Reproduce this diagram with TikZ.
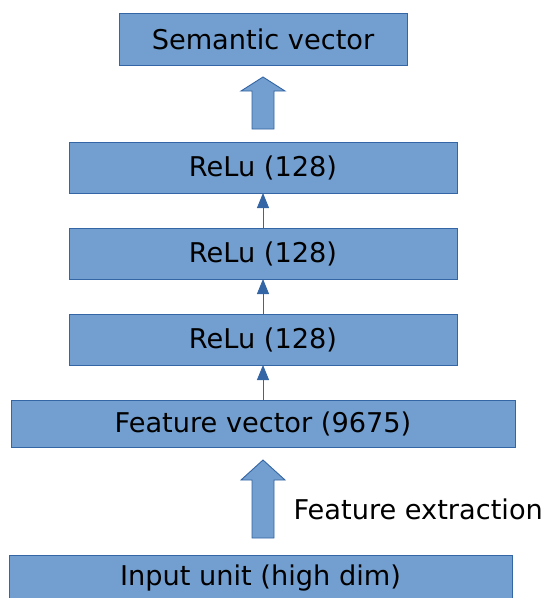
\documentclass[tikz,border=0pt]{standalone}
\usepackage{fontspec}
\setmainfont{DejaVu Sans}
\usetikzlibrary{arrows.meta}
\definecolor{boxfill}{HTML}{729FCF}
\definecolor{boxline}{HTML}{3465A4}
\begin{document}
\begin{tikzpicture}[x=1pt,y=-1pt,
  layer/.style={draw=boxline,fill=boxfill,line width=0.8pt,inner sep=0pt},
  link/.style={draw=boxline,line width=0.9pt,-{Triangle[length=15pt,width=12pt]}},
  bigarrow/.style={draw=boxline,fill=boxfill,line width=0.9pt,line join=miter},
  lbl/.style={font=\fontsize{27.2}{31}\selectfont,text=black}]
\useasboundingbox (0,0) rectangle (547,598);
\clip (0,0) rectangle (547,598);
% layers, bottom to top
\draw[layer] (9,555) rectangle (512,606);
\node[lbl] (input) at (260.5,578) {Input unit (high dim)};
\coordinate (inputtop) at (260.5,555);
\draw[layer] (11,400) rectangle (515,447);
\node[lbl] (feat) at (263,424) {Feature vector (9675)};
\draw[layer] (69,314) rectangle (457,365);
\node[lbl] (r3) at (263,340) {ReLu (128)};
\draw[layer] (69,228) rectangle (457,279);
\node[lbl] (r2) at (263,254) {ReLu (128)};
\draw[layer] (69,142) rectangle (457,193);
\node[lbl] (r1) at (263,168) {ReLu (128)};
\draw[layer] (119,13) rectangle (407,65);
\node[lbl] (sem) at (263,39.5) {Semantic vector};
% anchors on the box edges
\coordinate (feattop) at (263,400);
\coordinate (r3bot) at (263,365);
\coordinate (r3top) at (263,314);
\coordinate (r2bot) at (263,279);
\coordinate (r2top) at (263,228);
\coordinate (r1bot) at (263,193);
% thin connectors between layers
\draw[link] (feattop) -- (r3bot);
\draw[link] (r3top) -- (r2bot);
\draw[link] (r2top) -- (r1bot);
% block arrows
\draw[bigarrow] (252,538) -- (252,480) -- (241,480) -- (263,460) -- (285,480) -- (274,480) -- (274,538) -- cycle;
\draw[bigarrow] (252,129) -- (252,91) -- (241,91) -- (263,77) -- (285,91) -- (274,91) -- (274,129) -- cycle;
\node[lbl,anchor=west] (fx) at (290,509) {Feature extraction};
\end{tikzpicture}
\end{document}
